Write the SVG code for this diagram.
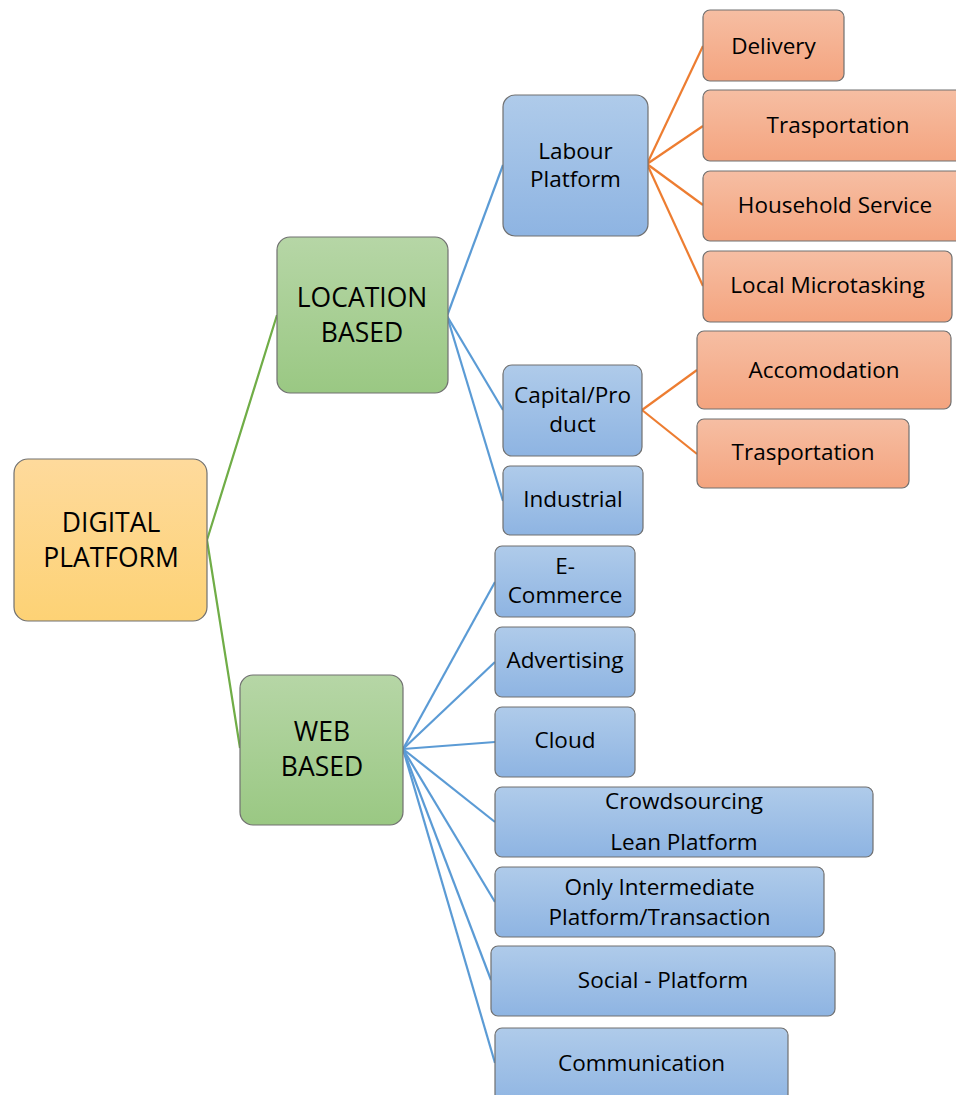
<svg xmlns="http://www.w3.org/2000/svg" width="956" height="1095" viewBox="0 0 956 1095">
<defs>
<linearGradient id="gY" x1="0" y1="0" x2="0" y2="1"><stop offset="0" stop-color="#FEDA9C"/><stop offset="1" stop-color="#FDD275"/></linearGradient>
<linearGradient id="gG" x1="0" y1="0" x2="0" y2="1"><stop offset="0" stop-color="#B6D6A6"/><stop offset="1" stop-color="#9AC883"/></linearGradient>
<linearGradient id="gB" x1="0" y1="0" x2="0" y2="1"><stop offset="0" stop-color="#AFCBEA"/><stop offset="1" stop-color="#8EB4E2"/></linearGradient>
<linearGradient id="gO" x1="0" y1="0" x2="0" y2="1"><stop offset="0" stop-color="#F6BEA3"/><stop offset="1" stop-color="#F4A47F"/></linearGradient>
<style>
rect{stroke:#707070;stroke-width:1.2}
.y{fill:url(#gY)} .g{fill:url(#gG)} .b{fill:url(#gB)} .o{fill:url(#gO)}
text{font-family:"Open Sans","Liberation Sans",sans-serif;fill:#000;text-anchor:middle}
.L{font-size:26.5px} .S{font-size:22.5px}
.cg{stroke:#70AD47;stroke-width:2.2;fill:none}
.cb{stroke:#5B9BD5;stroke-width:2.2;fill:none}
.co{stroke:#ED7D31;stroke-width:2.2;fill:none}
</style>
</defs>
<g id="connectors">
<polyline class="cg" points="277,315 207,540 240,748"/>
<line class="cb" x1="447" y1="316" x2="503" y2="165"/>
<line class="cb" x1="447" y1="316" x2="503" y2="410"/>
<line class="cb" x1="447" y1="316" x2="503" y2="501"/>
<line class="co" x1="647" y1="164" x2="703" y2="46"/>
<line class="co" x1="647" y1="164" x2="703" y2="126"/>
<line class="co" x1="647" y1="164" x2="703" y2="205"/>
<line class="co" x1="647" y1="164" x2="703" y2="286"/>
<line class="co" x1="642" y1="410" x2="697" y2="370"/>
<line class="co" x1="642" y1="410" x2="697" y2="454"/>
<line class="cb" x1="403" y1="749" x2="495" y2="582"/>
<line class="cb" x1="403" y1="749" x2="495" y2="662"/>
<line class="cb" x1="403" y1="749" x2="495" y2="742"/>
<line class="cb" x1="403" y1="749" x2="495" y2="822"/>
<line class="cb" x1="403" y1="749" x2="495" y2="902"/>
<line class="cb" x1="403" y1="749" x2="491" y2="980"/>
<line class="cb" x1="403" y1="749" x2="495" y2="1063"/>
</g>
<g id="digital"><rect class="y" x="14" y="459" width="193" height="162" rx="14"/><text class="L" x="111" y="532">DIGITAL</text><text class="L" x="111" y="567">PLATFORM</text></g>
<g id="location"><rect class="g" x="277" y="237" width="171" height="156" rx="13"/><text class="L" x="362" y="307">LOCATION</text><text class="L" x="362" y="342">BASED</text></g>
<g id="web"><rect class="g" x="240" y="675" width="163" height="150" rx="13"/><text class="L" x="322" y="741">WEB</text><text class="L" x="322" y="776">BASED</text></g>
<g id="labour"><rect class="b" x="503" y="95" width="145" height="141" rx="12"/><text class="S" x="575.5" y="159">Labour</text><text class="S" x="575.5" y="187">Platform</text></g>
<g id="capital"><rect class="b" x="503" y="365" width="139" height="91" rx="9"/><text class="S" x="572.5" y="403">Capital/Pro</text><text class="S" x="572.5" y="432">duct</text></g>
<g id="industrial"><rect class="b" x="503" y="466" width="140" height="69" rx="7"/><text class="S" x="573" y="507">Industrial</text></g>
<g id="delivery"><rect class="o" x="703" y="10" width="141" height="71" rx="7"/><text class="S" x="773.5" y="54">Delivery</text></g>
<g id="trasportation1"><rect class="o" x="703" y="90" width="270" height="71" rx="7"/><text class="S" x="838" y="133">Trasportation</text></g>
<g id="household"><rect class="o" x="703" y="171" width="264" height="70" rx="7"/><text class="S" x="835" y="213">Household Service</text></g>
<g id="microtasking"><rect class="o" x="703" y="251" width="249" height="71" rx="7"/><text class="S" x="827.5" y="293">Local Microtasking</text></g>
<g id="accomodation"><rect class="o" x="697" y="331" width="254" height="78" rx="7"/><text class="S" x="824" y="378">Accomodation</text></g>
<g id="trasportation2"><rect class="o" x="697" y="419" width="212" height="69" rx="7"/><text class="S" x="803" y="460">Trasportation</text></g>
<g id="ecommerce"><rect class="b" x="495" y="546" width="140" height="71" rx="7"/><text class="S" x="565" y="574">E-</text><text class="S" x="565" y="603">Commerce</text></g>
<g id="advertising"><rect class="b" x="495" y="627" width="140" height="70" rx="7"/><text class="S" x="565" y="668">Advertising</text></g>
<g id="cloud"><rect class="b" x="495" y="707" width="140" height="70" rx="7"/><text class="S" x="565" y="748">Cloud</text></g>
<g id="crowdsourcing"><rect class="b" x="495" y="787" width="378" height="70" rx="7"/><text class="S" x="684" y="809">Crowdsourcing</text><text class="S" x="684" y="850">Lean Platform</text></g>
<g id="intermediate"><rect class="b" x="495" y="867" width="329" height="70" rx="7"/><text class="S" x="659.5" y="895">Only Intermediate</text><text class="S" x="659.5" y="925">Platform/Transaction</text></g>
<g id="social"><rect class="b" x="491" y="946" width="344" height="70" rx="7"/><text class="S" x="663" y="988">Social - Platform</text></g>
<g id="communication"><rect class="b" x="495" y="1028" width="293" height="80" rx="7"/><text class="S" x="641.5" y="1071">Communication</text></g>
</svg>
